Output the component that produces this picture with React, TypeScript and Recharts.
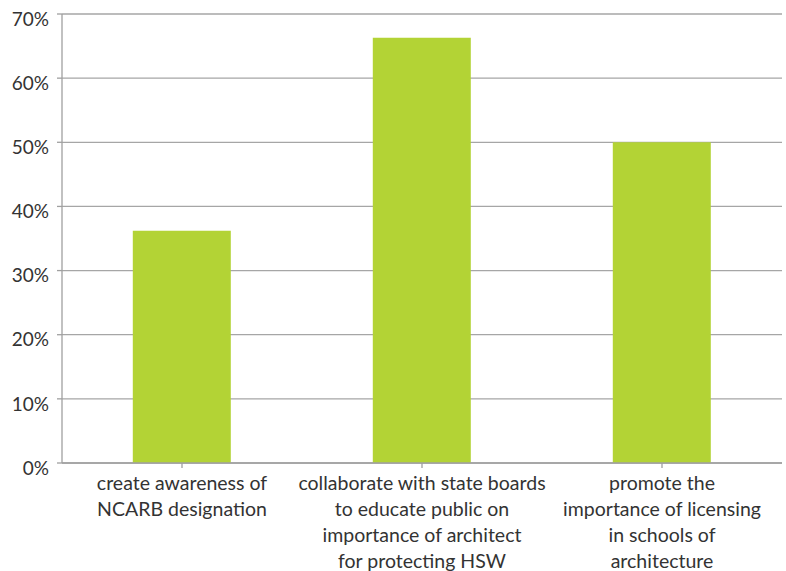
import React from 'react';
import { BarChart, Bar, XAxis, YAxis, CartesianGrid } from 'recharts';

const categories = ['awareness', 'collaborate', 'promote'];
const shares = [36.2, 66.3, 50];
const tickLines = [
  ['create awareness of', 'NCARB designation'],
  ['collaborate with state boards', 'to educate public on', 'importance of architect', 'for protecting HSW'],
  ['promote the', 'importance of licensing', 'in schools of', 'architecture'],
];
const yTicks = [0, 10, 20, 30, 40, 50, 60, 70];

const data = categories.map((c, i) => ({ name: c, value: shares[i] }));

const FONT = 'Lato, "Open Sans", sans-serif';

const CategoryTick = (props: any) => {
  const { x, y, payload } = props;
  const lines = tickLines[payload.index] || [];
  return (
    <g transform={`translate(${x},${y})`}>
      <text textAnchor="middle" fill="#333" fontSize={19.5} fontFamily={FONT}>
        {lines.map((l: string, i: number) => (
          <tspan key={i} x={0} dy={i === 0 ? 20 : 26}>
            {l}
          </tspan>
        ))}
      </text>
    </g>
  );
};

const PercentTick = (props: any) => {
  const { x, y, payload } = props;
  return (
    <text x={x} y={y + 5} dy="0.355em" textAnchor="end" fill="#333" fontSize={19} fontFamily={FONT}>
      {`${payload.value}%`}
    </text>
  );
};

export default function App() {
  return (
    <div style={{ position: 'absolute', left: 0, top: 0, width: 786, height: 571, background: '#fff' }}>
      <BarChart
        width={786}
        height={571}
        data={data}
        margin={{ top: 14, right: 4, left: 0, bottom: 0 }}
        barCategoryGap="29.5%"
      >
        <CartesianGrid vertical={false} stroke="#a6a6a6" strokeWidth={1.3} />
        <XAxis
          dataKey="name"
          height={108}
          interval={0}
          stroke="#a0a0a0"
          strokeWidth={1.3}
          tickLine={{ stroke: '#a0a0a0' }}
          tickSize={5}
          tick={<CategoryTick />}
        />
        <YAxis
          width={62}
          domain={[0, 70]}
          ticks={yTicks}
          interval={0}
          stroke="#a0a0a0"
          strokeWidth={1.3}
          tickSize={5}
          tickMargin={8}
          tick={<PercentTick />}
        />
        <Bar dataKey="value" fill="#b3d335" isAnimationActive={false} />
      </BarChart>
    </div>
  );
}
